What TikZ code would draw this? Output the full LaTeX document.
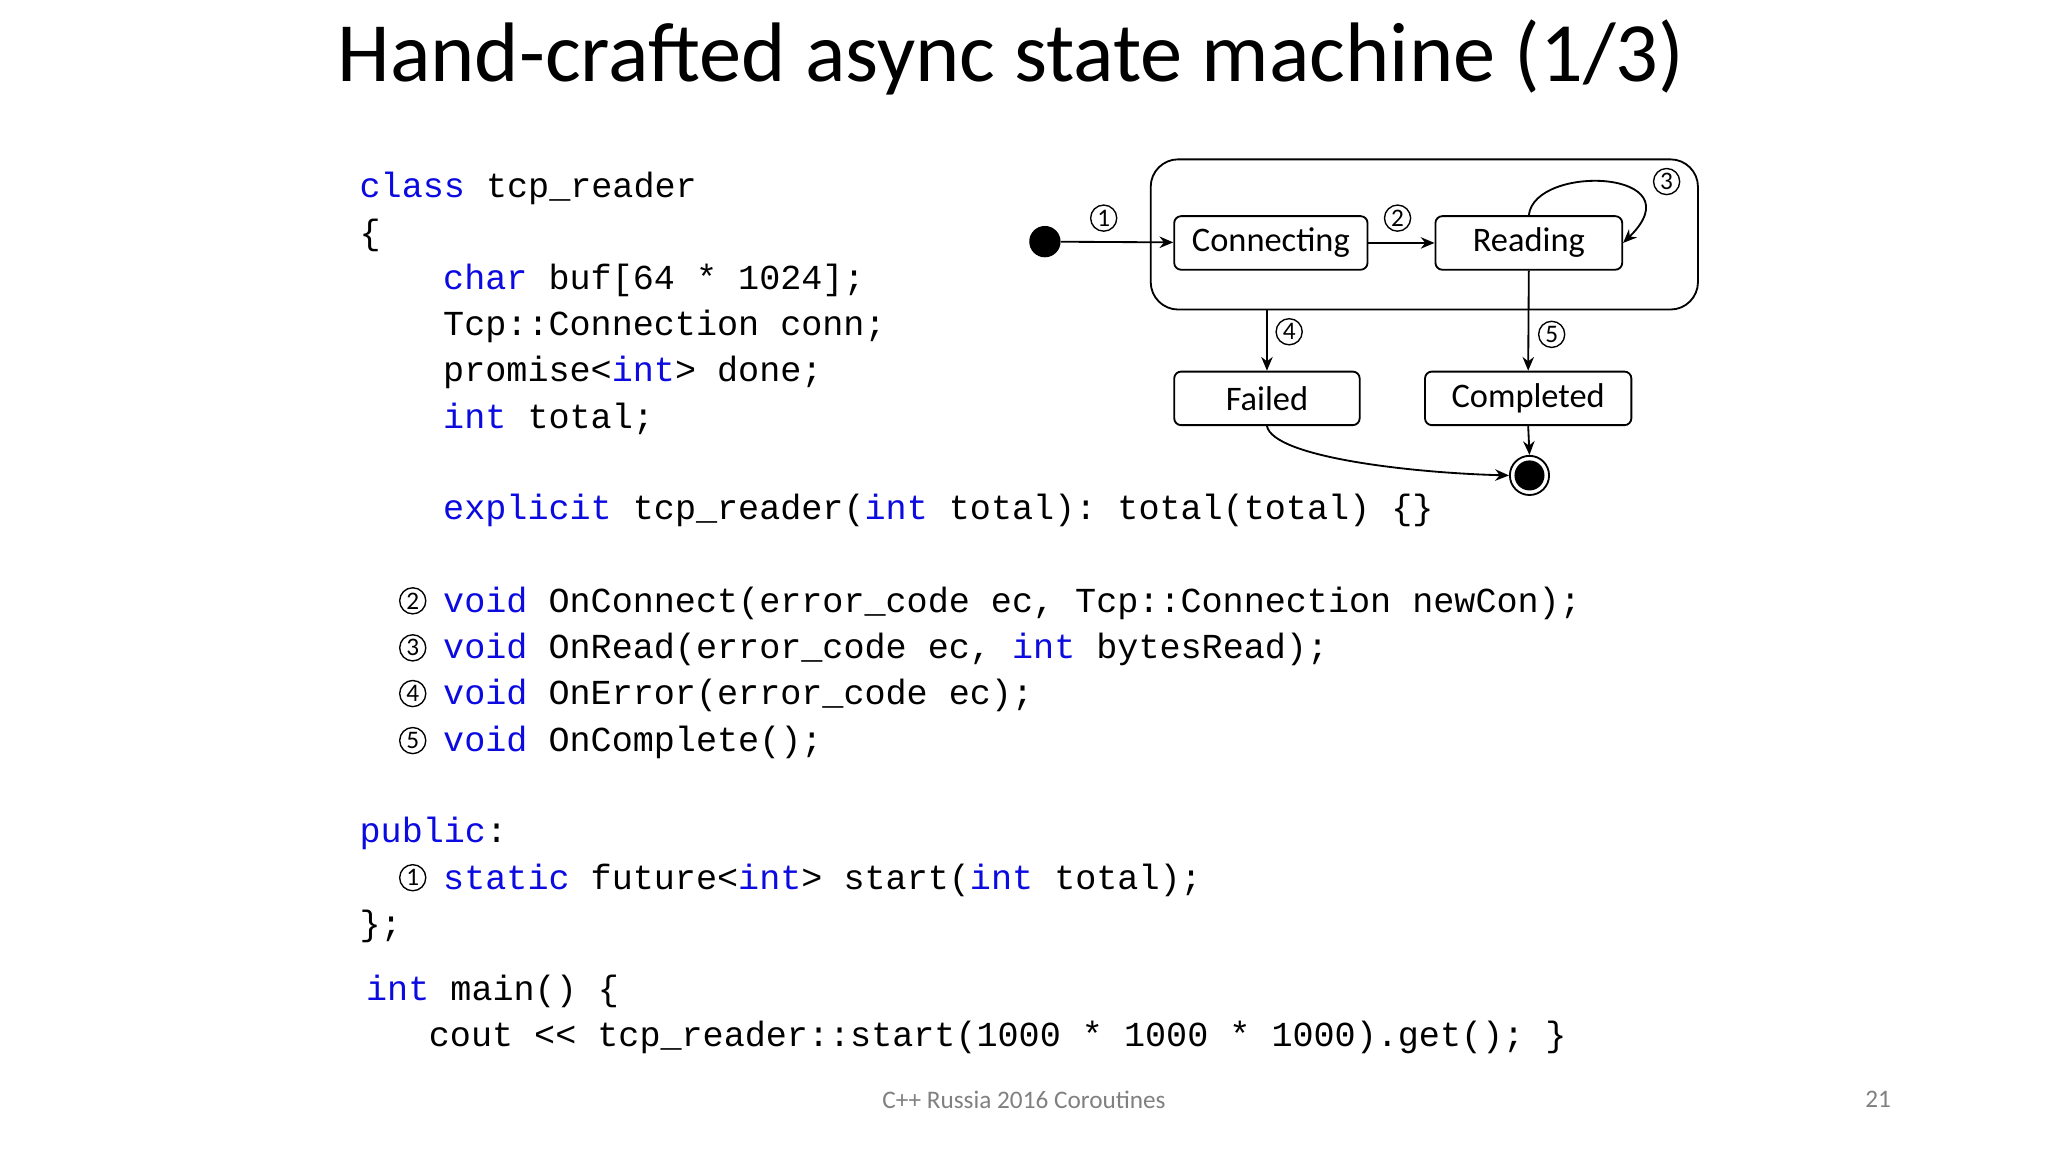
\documentclass[tikz,border=0pt]{standalone}
\usepackage{fontspec}
\setmainfont{Carlito}
\setmonofont{Liberation Mono}
\usetikzlibrary{arrows.meta}
\definecolor{kw}{RGB}{10,10,225}
\newcommand{\kw}[1]{\textcolor{kw}{#1}}
\begin{document}
\begin{tikzpicture}[x=0.02cm,y=-0.02cm,
  code/.style={anchor=base west,inner sep=0,font=\ttfamily\fontsize{15.3}{18}\selectfont},
  cn/.style={circle,draw,line width=0.6pt,inner sep=0,minimum size=20*0.02cm,font=\fontsize{11}{11}\selectfont},
  st/.style={draw,rounded corners=3pt,line width=0.8pt,font=\fontsize{15}{18}\selectfont,inner sep=0},
  ar/.style={-{Stealth[length=6pt,width=5pt]},line width=0.8pt}]
\useasboundingbox (0,0) rectangle (1568,882);
\node[font=\fontsize{36.8}{44}\selectfont] (title) at (774,44) {Hand-crafted async state machine (1/3)};
% code
\node[code] (l1) at (275,151) {\kw{class} tcp\_reader};
\node[code] (l2) at (275,187) {\{};
\node[code] (l3) at (339,222) {\kw{char} buf[64 * 1024];};
\node[code] (l4) at (339,257) {Tcp::Connection conn;};
\node[code] (l5) at (339,292) {promise<\kw{int}> done;};
\node[code] (l6) at (339,328) {\kw{int} total;};
\node[code] (l7) at (339,398) {\kw{explicit} tcp\_reader(\kw{int} total): total(total) \{\}};
\node[code] (l8) at (339,469) {\kw{void} OnConnect(error\_code ec, Tcp::Connection newCon);};
\node[code] (l9) at (339,504) {\kw{void} OnRead(error\_code ec, \kw{int} bytesRead);};
\node[code] (l10) at (339,539) {\kw{void} OnError(error\_code ec);};
\node[code] (l11) at (339,575) {\kw{void} OnComplete();};
\node[code] (l12) at (275,645) {\kw{public}:};
\node[code] (l13) at (339,681) {\kw{static} future<\kw{int}> start(\kw{int} total);};
\node[code] (l14) at (275,716) {\};};
\node[code] (l15) at (280,766) {\kw{int} main() \{};
\node[code] (l16) at (328,801) {cout << tcp\_reader::start(1000 * 1000 * 1000).get(); \}};
\node[cn] (c2) at (316,460) {2};
\node[cn] (c3) at (316,496) {3};
\node[cn] (c4) at (316,531) {4};
\node[cn] (c5) at (316,567) {5};
\node[cn] (c1) at (316,672) {1};
% diagram
\node[draw,rounded corners=12pt,line width=0.8pt,minimum width=419*0.02cm,minimum height=115*0.02cm] (sup) at (1090.5,179.5) {};
\node[circle,fill,minimum size=24*0.02cm,inner sep=0] (init) at (800,185) {};
\node[st,minimum width=148*0.02cm,minimum height=41*0.02cm] (conn) at (973,186) {Connecting};
\node[st,minimum width=143*0.02cm,minimum height=41*0.02cm] (read) at (1170.5,186) {Reading};
\node[st,minimum width=142*0.02cm,minimum height=41*0.02cm] (fail) at (970,305) {Failed};
\node[st,minimum width=158*0.02cm,minimum height=41*0.02cm] (comp) at (1170,305) {Completed};
\node[circle,draw,line width=0.8pt,minimum size=30*0.02cm,inner sep=0] (fin) at (1171,364) {};
\node[circle,fill,minimum size=23*0.02cm,inner sep=0] (finin) at (1171,364) {};
\draw[ar] (init) -- (conn);
\draw[ar] (conn) -- (read);
\draw[ar] (read.north) .. controls (1175,125) and (1300,130) .. (read.east);
\coordinate (f0) at (970,237);
\draw[ar] (f0) -- (fail);
\draw[ar] (read.south) -- (comp.north);
\draw[ar] (fail.south) .. controls (975,350) and (1080,362) .. (fin.west);
\draw[ar] (comp.south) -- (fin.north);
\node[cn] (d1) at (845,167) {1};
\node[cn] (d2) at (1070,167) {2};
\node[cn] (d3) at (1276,139) {3};
\node[cn] (d4) at (987,254) {4};
\node[cn] (d5) at (1188,256) {5};
% footer
\node[text=gray,font=\fontsize{11}{13}\selectfont] (foot) at (784,842) {C++ Russia 2016 Coroutines};
\node[text=gray,font=\fontsize{11}{13}\selectfont] (pg) at (1438,842) {21};
\end{tikzpicture}
\end{document}
